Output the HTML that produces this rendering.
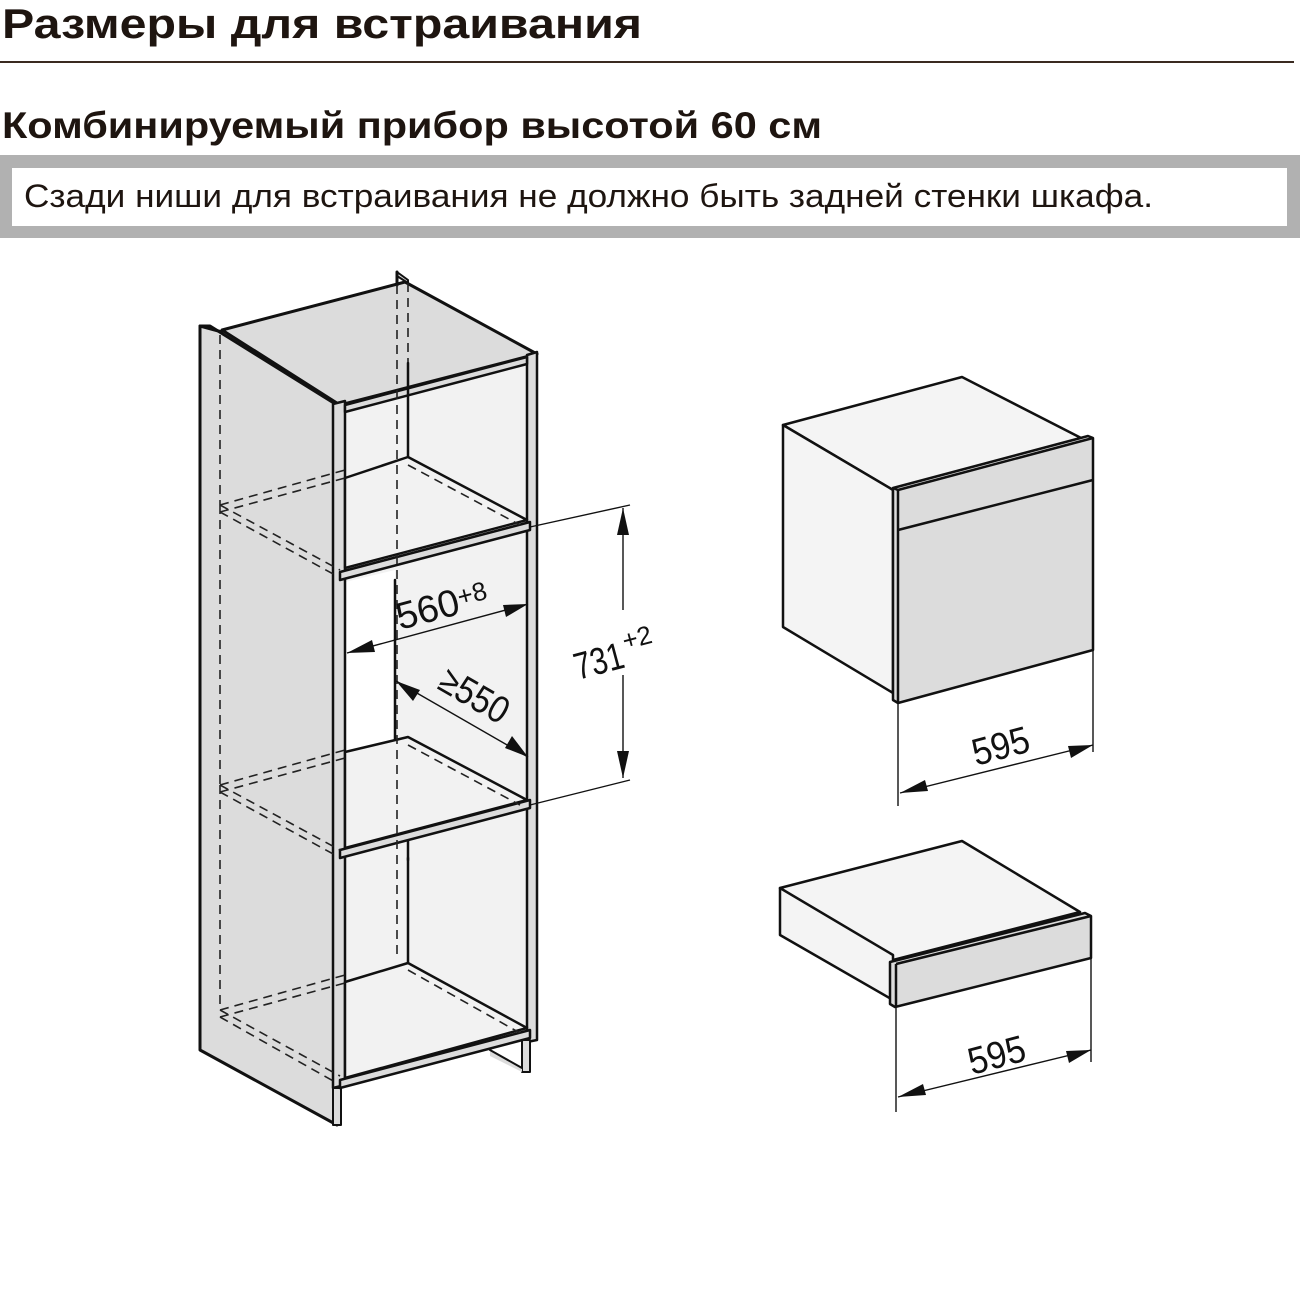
<!DOCTYPE html>
<html><head><meta charset="utf-8"><style>html,body{margin:0;padding:0;background:#fff}svg{display:block}</style></head>
<body>
<svg width="1300" height="1300" viewBox="0 0 1300 1300" xmlns="http://www.w3.org/2000/svg" font-family="Liberation Sans, sans-serif">
<rect width="1300" height="1300" fill="#fff"/>
<text x="2" y="38" font-size="42" font-weight="bold" fill="#1e1510" textLength="640" lengthAdjust="spacingAndGlyphs">Размеры для встраивания</text>
<rect x="0" y="61" width="1294" height="2" fill="#3a2a20"/>
<text x="2" y="138" font-size="37" font-weight="bold" fill="#1e1510" textLength="820" lengthAdjust="spacingAndGlyphs">Комбинируемый прибор высотой 60 см</text>
<rect x="0" y="155" width="1300" height="83" fill="#b1b1b1"/>
<rect x="12" y="168" width="1275" height="58" fill="#fff"/>
<text x="24" y="207" font-size="32" fill="#1e1510" textLength="1129" lengthAdjust="spacingAndGlyphs">Сзади ниши для встраивания не должно быть задней стенки шкафа.</text>

<g stroke="#111" stroke-linejoin="round" stroke-linecap="round">
<polygon points="340,405 530,356 530,1040 340,1085" fill="#f2f2f2" stroke="none"/>
<polygon points="345,582 395,570 395,740 345,752" fill="#fff" stroke="none"/>
<polygon points="222,330 405,282 537,354 340,405" fill="#dcdcdc" stroke-width="3"/>
<polygon points="397,272 408,280 408,283 397,276" fill="#dcdcdc" stroke-width="2"/>
<line x1="397" y1="272" x2="397" y2="285" stroke-width="3"/>
<polygon points="200,326 210,326 337,405 337,1125 200,1050" fill="#dcdcdc" stroke-width="3"/>
<line x1="200" y1="326" x2="222" y2="332" stroke-width="3"/>
<polygon points="333,404 345,401 345,1085 333,1088" fill="#dcdcdc" stroke-width="2.5"/>
<polygon points="333,1088 341,1088 341,1125 333,1125" fill="#dcdcdc" stroke-width="2"/>
<polygon points="527,355 537,352 537,1040 527,1042" fill="#dcdcdc" stroke-width="2.5"/>
<polygon points="522,1040 530,1040 530,1072 522,1072" fill="#dcdcdc" stroke-width="2"/>
<polygon points="490,1050 522,1068 522,1072 490,1056" fill="#dcdcdc" stroke="none"/>
<line x1="490" y1="1050" x2="522" y2="1068" stroke-width="2"/>
<polygon points="345,405 527,357 527,364 345,412" fill="#dcdcdc" stroke-width="2.5"/>
<line x1="408" y1="363" x2="408" y2="457" stroke-width="2.5"/>
<polygon points="345,478 408,457 527,520 345,568" fill="#f2f2f2" stroke-width="2.5"/>
<polygon points="340,572 530,522 530,530 340,580" fill="#dcdcdc" stroke-width="2.5"/>
<line x1="395" y1="580" x2="395" y2="742" stroke-width="2.5"/>
<line x1="408" y1="740" x2="408" y2="860" stroke-width="2.5"/>
<polygon points="345,752 408,737 527,800 345,848" fill="#f2f2f2" stroke-width="2.5"/>
<polygon points="340,850 530,800 530,808 340,858" fill="#dcdcdc" stroke-width="2.5"/>
<line x1="408" y1="858" x2="408" y2="963" stroke-width="2.5"/>
<polygon points="345,982 408,963 527,1028 345,1078" fill="#f2f2f2" stroke-width="2.5"/>
<polygon points="340,1080 530,1030 530,1038 340,1088" fill="#dcdcdc" stroke-width="2.5"/>
</g>
<g stroke="#222" stroke-width="1.6" stroke-dasharray="9,6" fill="none">
<line x1="220" y1="335" x2="220" y2="505"/>
<line x1="220" y1="505" x2="220" y2="785"/>
<line x1="220" y1="785" x2="220" y2="1010"/>
<line x1="397" y1="285" x2="397" y2="960"/>
<line x1="408" y1="283" x2="408" y2="362"/>
<line x1="220" y1="505" x2="345" y2="470"/>
<line x1="220" y1="512" x2="345" y2="478"/>
<line x1="220" y1="505" x2="340" y2="570"/>
<line x1="220" y1="512" x2="335" y2="575"/>
<line x1="408" y1="465" x2="520" y2="525"/>
<line x1="220" y1="785" x2="345" y2="750"/>
<line x1="220" y1="792" x2="345" y2="758"/>
<line x1="220" y1="785" x2="340" y2="850"/>
<line x1="220" y1="792" x2="335" y2="855"/>
<line x1="408" y1="745" x2="520" y2="805"/>
<line x1="220" y1="1010" x2="345" y2="975"/>
<line x1="220" y1="1017" x2="345" y2="983"/>
<line x1="220" y1="1010" x2="340" y2="1076"/>
<line x1="220" y1="1017" x2="335" y2="1082"/>
<line x1="408" y1="970" x2="520" y2="1033"/>
</g>
<g stroke="#111" stroke-width="1.4" fill="none">
<line x1="530" y1="527" x2="630" y2="505"/>
<line x1="530" y1="805" x2="630" y2="780"/>
<line x1="623" y1="508" x2="623" y2="610"/>
<line x1="623" y1="675" x2="623" y2="778"/>
<line x1="347" y1="653" x2="528" y2="604"/>
<line x1="396" y1="681" x2="528" y2="757"/>
</g>
<g fill="#111">
<polygon points="623,508 617,535 629,535"/>
<polygon points="623,778 617,751 629,751"/>
<polygon points="347,653 372,640 375,652"/>
<polygon points="528,604 503,605 506,617"/>
<polygon points="396,681 413,701 420,690"/>
<polygon points="528,757 512,736 505,748"/>
</g>
<g font-size="38" fill="#111">
<text transform="translate(400,630) rotate(-15)" textLength="64" lengthAdjust="spacingAndGlyphs">560</text>
<text transform="translate(460,606) rotate(-15)" font-size="26">+8</text>
<text transform="translate(578,680) rotate(-15)" textLength="50" lengthAdjust="spacingAndGlyphs">731</text>
<text transform="translate(625,650) rotate(-15)" font-size="26">+2</text>
<text transform="translate(436,688) rotate(30)" textLength="74" lengthAdjust="spacingAndGlyphs">≥550</text>
</g>

<g stroke="#111" stroke-width="2.5" stroke-linejoin="round">
<polygon points="783,425 962,377 1085,440 893,490" fill="#f4f4f4"/>
<polygon points="783,425 893,490 893,693 783,627" fill="#f4f4f4"/>
<polygon points="893,488 1088,436 1093,438 1093,650 898,703 893,700" fill="#dcdcdc"/>
<line x1="898" y1="490" x2="898" y2="703"/>
<line x1="893" y1="488" x2="898" y2="490"/>
<line x1="898" y1="490" x2="1093" y2="438"/>
<line x1="898" y1="530" x2="1093" y2="480"/>
</g>
<g stroke="#111" stroke-width="1.4"><line x1="898" y1="703" x2="898" y2="806"/><line x1="1093" y1="650" x2="1093" y2="752"/><line x1="900" y1="793" x2="1093" y2="745"/></g>
<g fill="#111"><polygon points="900,793 925,780 928,791"/><polygon points="1093,745 1068,746 1071,758"/></g>
<text transform="translate(976,766) rotate(-15)" font-size="38" fill="#111" textLength="58" lengthAdjust="spacingAndGlyphs">595</text>

<g stroke="#111" stroke-width="2.5" stroke-linejoin="round">
<polygon points="780,888 962,841 1080,912 893,960" fill="#f4f4f4"/>
<polygon points="780,888 893,955 893,1000 780,935" fill="#f4f4f4"/>
<polygon points="890,962 1085,913 1091,916 1091,958 895,1007 890,1004" fill="#dcdcdc"/>
<line x1="896" y1="964" x2="896" y2="1007"/>
<line x1="896" y1="964" x2="1091" y2="916"/>
</g>
<g stroke="#111" stroke-width="1.4"><line x1="896" y1="1007" x2="896" y2="1112"/><line x1="1091" y1="958" x2="1091" y2="1062"/><line x1="898" y1="1097" x2="1091" y2="1050"/></g>
<g fill="#111"><polygon points="898,1097 923,1084 926,1095"/><polygon points="1091,1050 1066,1051 1069,1063"/></g>
<text transform="translate(972,1075) rotate(-15)" font-size="38" fill="#111" textLength="58" lengthAdjust="spacingAndGlyphs">595</text>
</svg>
</body></html>
